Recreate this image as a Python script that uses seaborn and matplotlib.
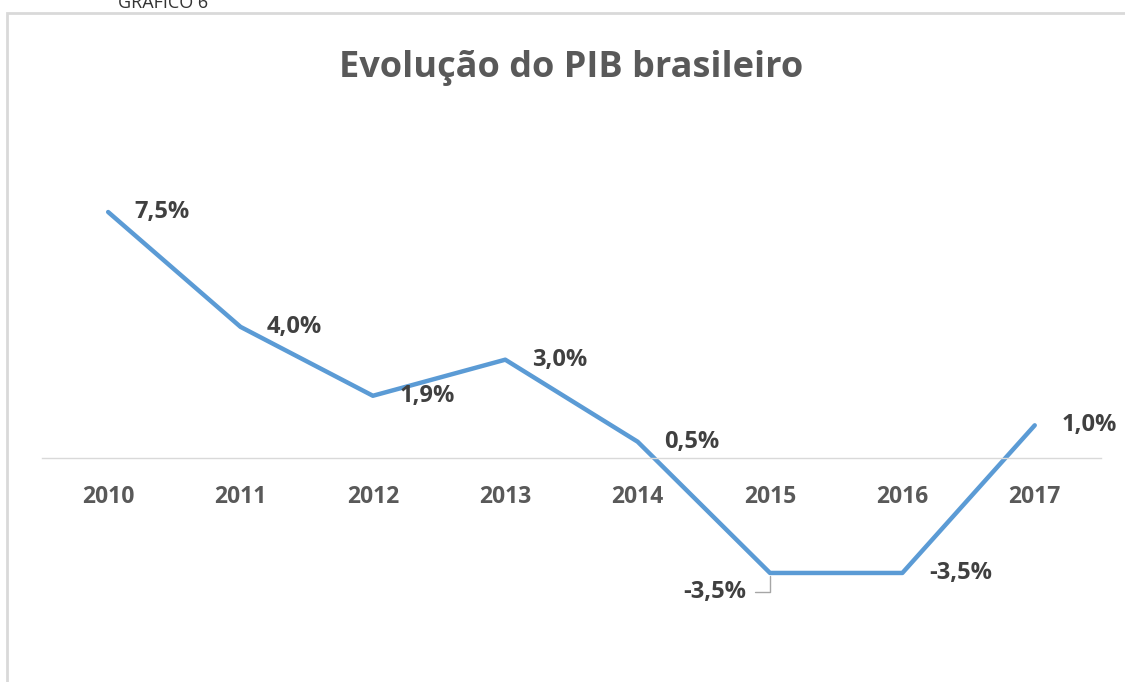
import pandas as pd
import seaborn as sns
import matplotlib.pyplot as plt
from matplotlib.patches import Rectangle

# dados do grafico
anos = ['2010', '2011', '2012', '2013', '2014', '2015', '2016', '2017']
pib = [7.5, 4.0, 1.9, 3.0, 0.5, -3.5, -3.5, 1.0]
rotulos = ['7,5%', '4,0%', '1,9%', '3,0%', '0,5%', '-3,5%', '-3,5%', '1,0%']

df = pd.DataFrame({'ano': anos, 'pib': pib})

sns.set_theme(style='white')
plt.rcParams['font.family'] = ['Open Sans', 'DejaVu Sans']

fig = plt.figure(figsize=(11.25, 6.82), dpi=100)
ax = fig.add_axes([0.0373, 0.0396, 0.9413, 0.7698])

sns.lineplot(data=df, x='ano', y='pib', color='#5B9BD5', linewidth=3.2, ax=ax, sort=False)

ax.set_xlim(-0.5, 7.5)
ax.set_ylim(-6, 10)
ax.set_yticks([])
ax.set_xlabel('')
ax.set_ylabel('')
for s in ['top', 'right', 'left']:
    ax.spines[s].set_visible(False)
ax.spines['bottom'].set_position(('data', 0))
ax.spines['bottom'].set_color('#d9d9d9')
ax.spines['bottom'].set_linewidth(1)
ax.tick_params(axis='x', length=0, pad=19, labelsize=16.5, labelcolor='#595959')
for t in ax.get_xticklabels():
    t.set_fontweight('bold')

# rotulos de dados
for i, (v, r) in enumerate(zip(pib, rotulos)):
    if i == 5:
        ax.annotate(r, xy=(i, v), xytext=(-17, -14), textcoords='offset points',
                    ha='right', va='center', fontsize=17, fontweight='bold', color='#404040',
                    arrowprops=dict(arrowstyle='-', color='#a6a6a6', lw=1,
                                    connectionstyle='angle,angleA=0,angleB=90,rad=0',
                                    shrinkA=4, shrinkB=2))
    else:
        ax.annotate(r, xy=(i, v), xytext=(19, 0), textcoords='offset points',
                    ha='left', va='center', fontsize=17, fontweight='bold', color='#404040')

fig.text(0.508, 0.9, 'Evolução do PIB brasileiro', ha='center', va='center',
         fontsize=26, fontweight='bold', color='#595959')

# moldura e legenda de cima
fig.add_artist(Rectangle((7 / 1125, -0.1), 2, 1 - 13 / 682 + 0.1, transform=fig.transFigure,
                         fill=False, edgecolor='#d9d9d9', linewidth=2))
fig.text(0.145, 1 - 8 / 682, 'GRÁFICO 6', ha='center', va='baseline', fontsize=13, color='#333333')

plt.savefig('out.png', dpi=100)
plt.close()
